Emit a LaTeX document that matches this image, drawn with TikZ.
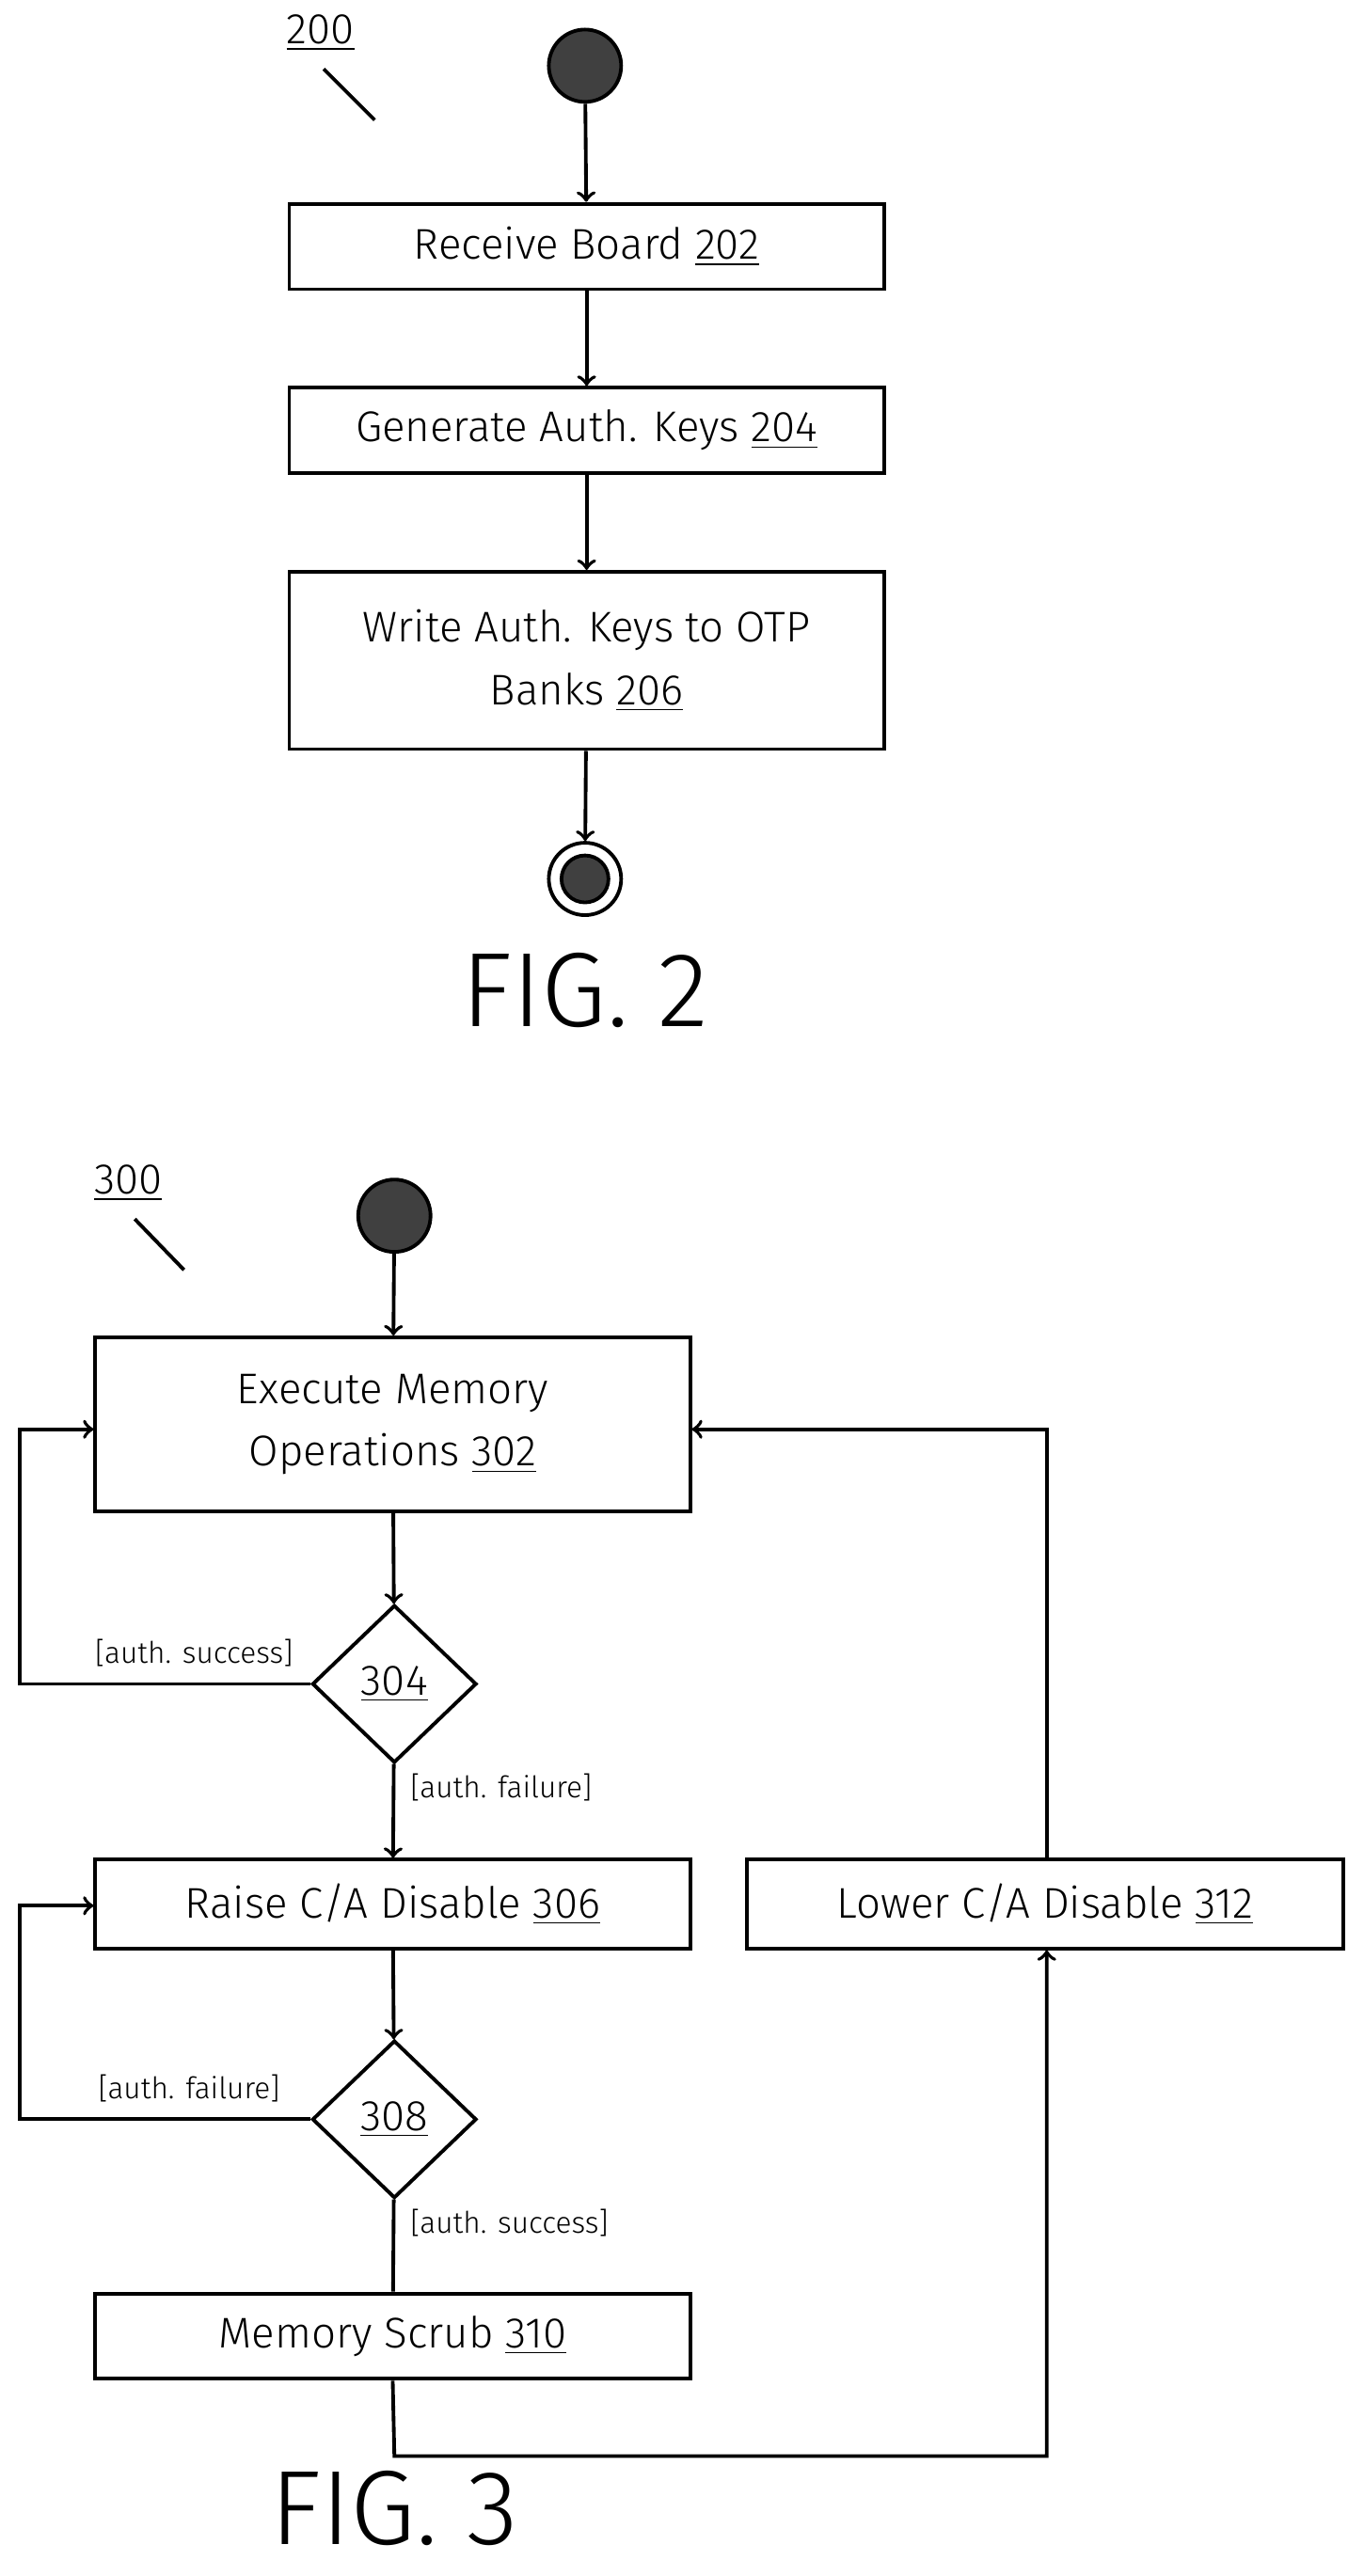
\documentclass[tikz,border=0pt]{standalone}
\usepackage{fontspec}
\setmainfont{Fira Sans Light}[BoldFont=Fira Sans]
\usetikzlibrary{arrows,shapes.geometric}
\begin{document}
\begin{tikzpicture}[->,line width=1.1pt,>=to,x=0.017494cm,y=-0.017494cm]
    \tikzstyle{box}=[draw, rectangle, inner sep=0pt, align=center, font=\fontsize{13}{19}\selectfont]
    \tikzstyle{dec}=[draw, diamond, inner sep=0pt, font=\fontsize{13}{16}\selectfont]
    \tikzstyle{lbl}=[font=\fontsize{9}{11}\selectfont]
    \tikzstyle{start}=[circle, fill=black!75, draw, minimum size=0.77cm, inner sep=0pt]
    \useasboundingbox (0,0) rectangle (830,1568);

    % fig 2
    \node[font=\fontsize{13}{16}\selectfont] (n200) at (195,20) {\underline{200}};
    \draw[-] (197,42) -- (228,73);
    \node[start] (s2) at (356,40) {};
    \node[box, minimum width=362*0.017494cm, minimum height=52*0.017494cm] (b202) at (357,150) {Receive Board \underline{202}};
    \node[box, minimum width=362*0.017494cm, minimum height=52*0.017494cm] (b204) at (357,262) {Generate Auth. Keys \underline{204}};
    \node[box, minimum width=362*0.017494cm, minimum height=108*0.017494cm] (b206) at (357,402) {Write Auth. Keys to OTP\\Banks \underline{206}};
    \node[circle, draw, minimum size=0.77cm, inner sep=0pt] (e2) at (356,535) {};
    \node[start, minimum size=0.5cm] (e2i) at (356,535) {};
    \node[font=\fontsize{32}{38}\selectfont] (f2) at (356,603) {FIG. 2};
    \path
     (s2) edge (b202)
     (b202) edge (b204)
     (b204) edge (b206)
     (b206) edge (e2)
     ;

    % fig 3
    \node[font=\fontsize{13}{16}\selectfont] (n300) at (78,720) {\underline{300}};
    \draw[-] (82,742) -- (112,773);
    \node[start] (s3) at (240,740) {};
    \node[box, minimum width=362*0.017494cm, minimum height=106*0.017494cm] (b302) at (239,867) {Execute Memory\\Operations \underline{302}};
    \node[dec, minimum width=100*0.017494cm, minimum height=96*0.017494cm] (d304) at (240,1025) {\underline{304}};
    \node[box, minimum width=362*0.017494cm, minimum height=54*0.017494cm] (b306) at (239,1159) {Raise C/A Disable \underline{306}};
    \node[dec, minimum width=100*0.017494cm, minimum height=96*0.017494cm] (d308) at (240,1290) {\underline{308}};
    \node[box, minimum width=362*0.017494cm, minimum height=52*0.017494cm] (b310) at (239,1422) {Memory Scrub \underline{310}};
    \node[box, minimum width=363*0.017494cm, minimum height=54*0.017494cm] (b312) at (636,1159) {Lower C/A Disable \underline{312}};
    \node[font=\fontsize{32}{38}\selectfont] (f3) at (240,1527) {FIG. 3};
    \node[lbl, anchor=south east] (l1) at (186,1022) {[auth. success]};
    \node[lbl, anchor=west] (l2) at (242,1088) {[auth. failure]};
    \node[lbl, anchor=south east] (l3) at (178,1287) {[auth. failure]};
    \node[lbl, anchor=west] (l4) at (242,1353) {[auth. success]};
    \path
     (s3) edge (b302)
     (b302) edge (d304)
     (d304) edge (b306)
     (b306) edge (d308)
     (d308) edge[-] (b310)
     ;
    \draw (d304.west) -- (12,1025) -- (12,870) -- (b302.west |- 0,870);
    \draw (d308.west) -- (12,1290) -- (12,1160) -- (b306.west |- 0,1160);
    \draw (b310.south) -- (240,1495) -- (637,1495) -- (b312.south -| 637,0);
    \draw (b312.north -| 637,0) -- (637,870) -- (b302.east |- 0,870);
\end{tikzpicture}
\end{document}
